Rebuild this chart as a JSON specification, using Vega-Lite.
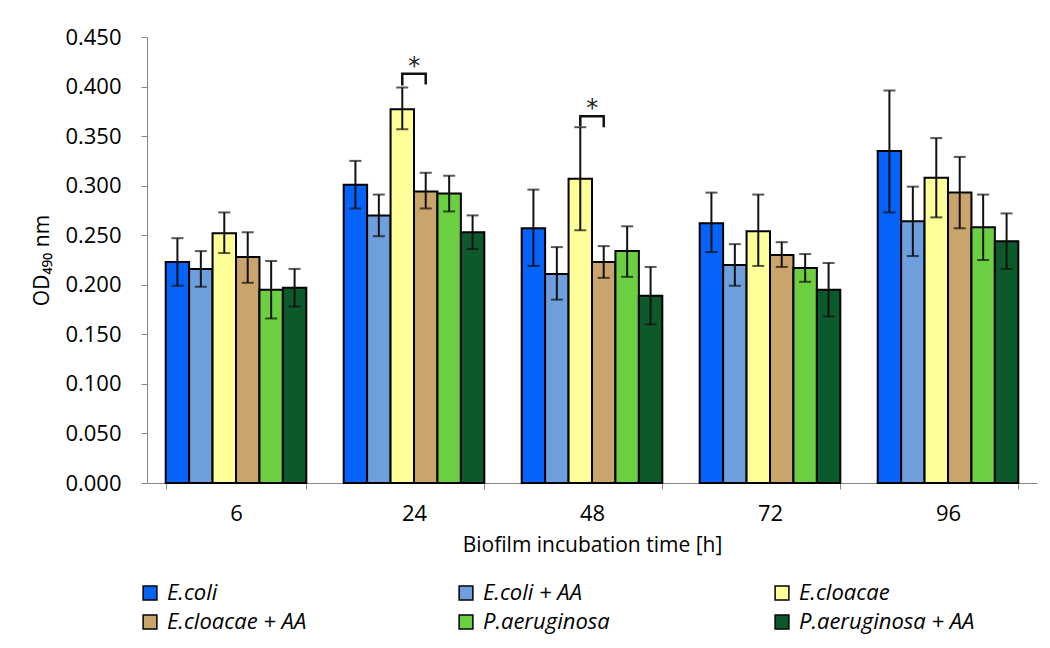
{
  "$schema": "https://vega.github.io/schema/vega-lite/v6.json",
  "width": 890,
  "height": 446,
  "autosize": {"type": "none"},
  "padding": {"left": 147, "top": 37, "right": 13, "bottom": 165},
  "background": "white",
  "config": {
    "view": {"stroke": null},
    "font": "Open Sans",
    "axis": {"labelFont": "Open Sans", "titleFont": "Open Sans", "labelColor": "#000", "titleColor": "#000", "domainColor": "#868686", "tickColor": "#868686", "labelFontSize": 22, "titleFontSize": 21, "titleFontWeight": "normal", "grid": false}
  },
  "datasets": {
    "bars": [
      {"time": "6", "series": "E.coli", "mean": 0.223, "lo": 0.199, "hi": 0.247},
      {"time": "6", "series": "E.coli + AA", "mean": 0.216, "lo": 0.198, "hi": 0.234},
      {"time": "6", "series": "E.cloacae", "mean": 0.252, "lo": 0.232, "hi": 0.273},
      {"time": "6", "series": "E.cloacae + AA", "mean": 0.228, "lo": 0.202, "hi": 0.253},
      {"time": "6", "series": "P.aeruginosa", "mean": 0.195, "lo": 0.166, "hi": 0.224},
      {"time": "6", "series": "P.aeruginosa + AA", "mean": 0.197, "lo": 0.178, "hi": 0.216},
      {"time": "24", "series": "E.coli", "mean": 0.301, "lo": 0.277, "hi": 0.325},
      {"time": "24", "series": "E.coli + AA", "mean": 0.270, "lo": 0.249, "hi": 0.291},
      {"time": "24", "series": "E.cloacae", "mean": 0.377, "lo": 0.357, "hi": 0.399},
      {"time": "24", "series": "E.cloacae + AA", "mean": 0.294, "lo": 0.277, "hi": 0.313},
      {"time": "24", "series": "P.aeruginosa", "mean": 0.292, "lo": 0.274, "hi": 0.310},
      {"time": "24", "series": "P.aeruginosa + AA", "mean": 0.253, "lo": 0.236, "hi": 0.270},
      {"time": "48", "series": "E.coli", "mean": 0.257, "lo": 0.219, "hi": 0.296},
      {"time": "48", "series": "E.coli + AA", "mean": 0.211, "lo": 0.185, "hi": 0.238},
      {"time": "48", "series": "E.cloacae", "mean": 0.307, "lo": 0.255, "hi": 0.359},
      {"time": "48", "series": "E.cloacae + AA", "mean": 0.223, "lo": 0.207, "hi": 0.239},
      {"time": "48", "series": "P.aeruginosa", "mean": 0.234, "lo": 0.208, "hi": 0.259},
      {"time": "48", "series": "P.aeruginosa + AA", "mean": 0.189, "lo": 0.160, "hi": 0.218},
      {"time": "72", "series": "E.coli", "mean": 0.262, "lo": 0.233, "hi": 0.293},
      {"time": "72", "series": "E.coli + AA", "mean": 0.220, "lo": 0.199, "hi": 0.241},
      {"time": "72", "series": "E.cloacae", "mean": 0.254, "lo": 0.219, "hi": 0.291},
      {"time": "72", "series": "E.cloacae + AA", "mean": 0.230, "lo": 0.218, "hi": 0.243},
      {"time": "72", "series": "P.aeruginosa", "mean": 0.217, "lo": 0.203, "hi": 0.231},
      {"time": "72", "series": "P.aeruginosa + AA", "mean": 0.195, "lo": 0.168, "hi": 0.222},
      {"time": "96", "series": "E.coli", "mean": 0.335, "lo": 0.273, "hi": 0.396},
      {"time": "96", "series": "E.coli + AA", "mean": 0.264, "lo": 0.229, "hi": 0.299},
      {"time": "96", "series": "E.cloacae", "mean": 0.308, "lo": 0.268, "hi": 0.348},
      {"time": "96", "series": "E.cloacae + AA", "mean": 0.293, "lo": 0.257, "hi": 0.329},
      {"time": "96", "series": "P.aeruginosa", "mean": 0.258, "lo": 0.225, "hi": 0.291},
      {"time": "96", "series": "P.aeruginosa + AA", "mean": 0.244, "lo": 0.216, "hi": 0.272}
    ],
    "brackets": [
      {"time": "24", "series": "E.cloacae", "v": 0.401, "k": "a", "o": 1},
      {"time": "24", "series": "E.cloacae", "v": 0.413, "k": "a", "o": 2},
      {"time": "24", "series": "E.cloacae + AA", "v": 0.413, "k": "a", "o": 3},
      {"time": "24", "series": "E.cloacae + AA", "v": 0.402, "k": "a", "o": 4},
      {"time": "48", "series": "E.cloacae", "v": 0.360, "k": "b", "o": 1},
      {"time": "48", "series": "E.cloacae", "v": 0.370, "k": "b", "o": 2},
      {"time": "48", "series": "E.cloacae + AA", "v": 0.370, "k": "b", "o": 3},
      {"time": "48", "series": "E.cloacae + AA", "v": 0.359, "k": "b", "o": 4}
    ],
    "stars": [
      {"time": "24", "series": "E.cloacae", "v": 0.425, "t": "*"},
      {"time": "48", "series": "E.cloacae", "v": 0.382, "t": "*"}
    ]
  },
  "encoding": {
    "x": {
      "field": "time", "type": "ordinal", "sort": ["6", "24", "48", "72", "96"],
      "scale": {"paddingInner": 0.21, "paddingOuter": 0.105},
      "axis": {"title": "Biofilm incubation time [h]", "labelAngle": 0, "tickBand": "extent", "tickSize": 6, "labelPadding": 14, "titlePadding": 10}
    },
    "xOffset": {
      "field": "series", "type": "nominal",
      "sort": ["E.coli", "E.coli + AA", "E.cloacae", "E.cloacae + AA", "P.aeruginosa", "P.aeruginosa + AA"],
      "scale": {"paddingInner": 0, "paddingOuter": 0}
    }
  },
  "layer": [
    {
      "data": {"name": "bars"},
      "mark": {"type": "bar", "stroke": "#000", "strokeWidth": 2},
      "encoding": {
        "y": {
          "field": "mean", "type": "quantitative",
          "scale": {"domain": [0, 0.45], "nice": false},
          "axis": {"title": "OD₄₉₀ nm", "values": [0, 0.05, 0.1, 0.15, 0.2, 0.25, 0.3, 0.35, 0.4, 0.45], "format": ".3f", "tickSize": 6, "labelPadding": 20, "titlePadding": 12}
        },
        "color": {
          "field": "series", "type": "nominal",
          "sort": ["E.coli", "E.coli + AA", "E.cloacae", "E.cloacae + AA", "P.aeruginosa", "P.aeruginosa + AA"],
          "scale": {"range": ["#0563FA", "#6E9FDC", "#FFFF99", "#C9A46B", "#6CCF42", "#0C5A2C"]},
          "legend": {
            "title": null, "orient": "none", "legendX": -8, "legendY": 545, "direction": "horizontal", "columns": 3,
            "gridAlign": "all", "columnPadding": 112, "rowPadding": 7,
            "symbolType": "square", "symbolSize": 190, "symbolStrokeColor": "#000", "symbolStrokeWidth": 1.5, "symbolOpacity": 1,
            "labelFont": "Open Sans", "labelFontSize": 22, "labelFontStyle": "italic", "labelColor": "#000", "labelOffset": 6, "labelLimit": 300
          }
        }
      }
    },
    {
      "data": {"name": "bars"},
      "mark": {"type": "rule", "color": "#111", "strokeWidth": 2},
      "encoding": {
        "y": {"field": "lo", "type": "quantitative"},
        "y2": {"field": "hi"}
      }
    },
    {
      "data": {"name": "bars"},
      "mark": {"type": "tick", "color": "#111", "thickness": 2, "size": 12},
      "encoding": {"y": {"field": "lo", "type": "quantitative"}}
    },
    {
      "data": {"name": "bars"},
      "mark": {"type": "tick", "color": "#111", "thickness": 2, "size": 12},
      "encoding": {"y": {"field": "hi", "type": "quantitative"}}
    },
    {
      "data": {"name": "brackets"},
      "mark": {"type": "line", "color": "#111", "strokeWidth": 2.5},
      "encoding": {
        "y": {"field": "v", "type": "quantitative"},
        "detail": {"field": "k"},
        "order": {"field": "o", "type": "quantitative"}
      }
    },
    {
      "data": {"name": "stars"},
      "mark": {"type": "text", "fontSize": 24, "font": "DejaVu Sans", "color": "#222", "dx": 12, "baseline": "middle", "dy": 5},
      "encoding": {
        "y": {"field": "v", "type": "quantitative"},
        "text": {"field": "t"}
      }
    }
  ]
}
